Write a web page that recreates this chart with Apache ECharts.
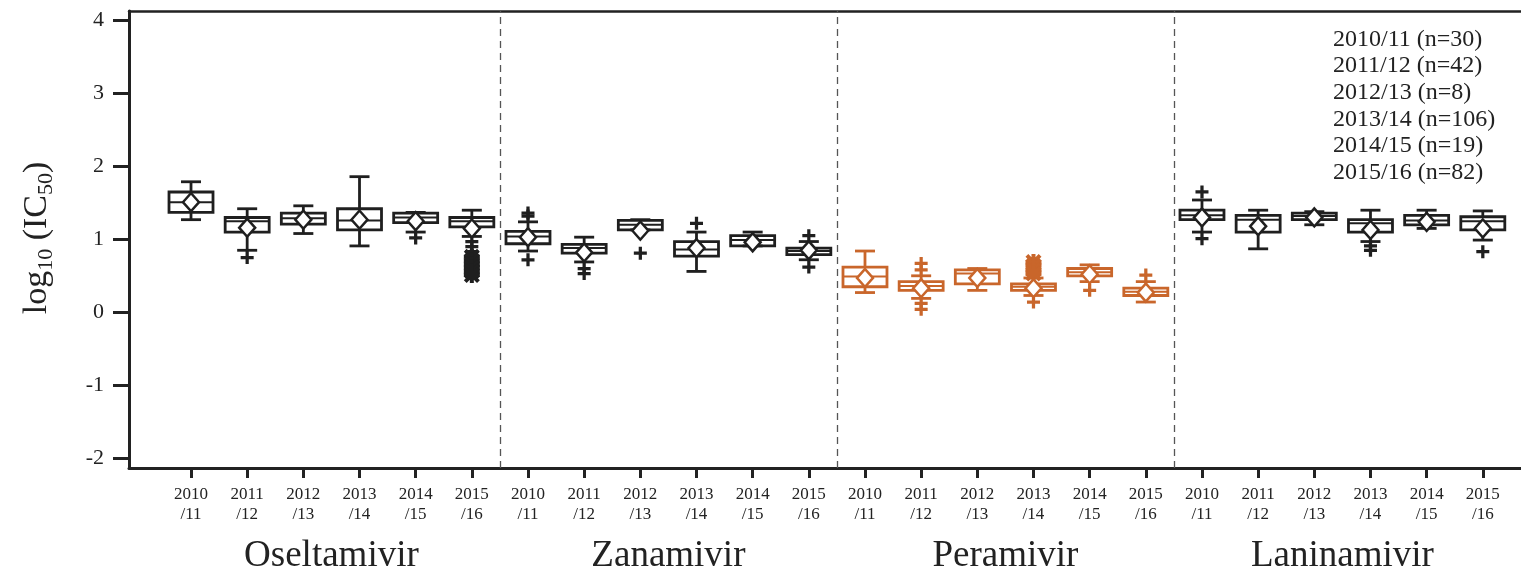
<!DOCTYPE html>
<html>
<head>
<meta charset="utf-8">
<script src="https://cdn.jsdelivr.net/npm/echarts@6/dist/echarts.min.js"></script>
<style>
html,body{margin:0;padding:0;background:#fff;}
#c{width:1521px;height:572px;}
</style>
</head>
<body>
<div id="c"></div>
<script>
// ---------- data ----------
const seasons = ['2010/11', '2011/12', '2012/13', '2013/14', '2014/15', '2015/16'];
const seasonCounts = [30, 42, 8, 106, 19, 82];
const drugs = ['Oseltamivir', 'Zanamivir', 'Peramivir', 'Laninamivir'];
const yTicks = [-2, -1, 0, 1, 2, 3, 4];

// box stats per season: [min, Q1, median, Q3, max]
const oseltamivirBoxes = [
  [1.27, 1.37, 1.51, 1.65, 1.79],
  [0.85, 1.10, 1.25, 1.30, 1.42],
  [1.08, 1.21, 1.29, 1.36, 1.46],
  [0.91, 1.13, 1.26, 1.42, 1.86],
  [1.10, 1.23, 1.30, 1.36, 1.37],
  [1.04, 1.17, 1.25, 1.30, 1.40]
];
const zanamivirBoxes = [
  [0.84, 0.94, 1.04, 1.11, 1.24],
  [0.69, 0.81, 0.88, 0.93, 1.03],
  [1.13, 1.13, 1.20, 1.26, 1.27],
  [0.56, 0.77, 0.86, 0.97, 1.10],
  [0.91, 0.91, 0.99, 1.05, 1.10],
  [0.72, 0.79, 0.84, 0.88, 0.97]
];
const peramivirBoxes = [
  [0.27, 0.35, 0.49, 0.62, 0.84],
  [0.19, 0.30, 0.36, 0.42, 0.50],
  [0.30, 0.39, 0.53, 0.58, 0.60],
  [0.23, 0.30, 0.35, 0.39, 0.47],
  [0.42, 0.50, 0.55, 0.60, 0.65],
  [0.14, 0.23, 0.28, 0.33, 0.42]
];
const laninamivirBoxes = [
  [1.10, 1.27, 1.33, 1.40, 1.54],
  [0.87, 1.10, 1.27, 1.33, 1.40],
  [1.20, 1.27, 1.32, 1.36, 1.38],
  [0.97, 1.10, 1.22, 1.27, 1.40],
  [1.15, 1.20, 1.26, 1.33, 1.40],
  [0.99, 1.13, 1.25, 1.31, 1.39]
];

// means per season
const oseltamivirMeans = [1.51, 1.16, 1.27, 1.27, 1.25, 1.15];
const zanamivirMeans = [1.03, 0.82, 1.12, 0.88, 0.96, 0.85];
const peramivirMeans = [0.47, 0.33, 0.47, 0.33, 0.52, 0.27];
const laninamivirMeans = [1.30, 1.18, 1.30, 1.13, 1.24, 1.15];

// outliers ('+') per season
const oseltamivirOutliers = [[], [0.75], [], [], [1.02], [0.97, 0.90, 0.83]];
const zanamivirOutliers = [[1.36, 1.32, 0.72], [0.60, 0.53], [0.81], [1.22], [], [1.05, 0.62]];
const peramivirOutliers = [[], [0.67, 0.58, 0.12, 0.04], [], [0.14], [0.30], [0.51]];
const laninamivirOutliers = [[1.65, 1.01], [], [], [0.91, 0.85], [], [0.83]];

// extreme outliers ('*') per season
const oseltamivirStars = [[], [], [], [], [], [0.76, 0.71, 0.66, 0.61, 0.56, 0.51]];
const zanamivirStars = [[], [], [], [], [], []];
const peramivirStars = [[], [], [], [0.69, 0.64, 0.58, 0.53], [], []];
const laninamivirStars = [[], [], [], [], [], []];

// ---------- build ----------
const drugBoxes = [oseltamivirBoxes, zanamivirBoxes, peramivirBoxes, laninamivirBoxes];
const drugMeans = [oseltamivirMeans, zanamivirMeans, peramivirMeans, laninamivirMeans];
const drugOutliers = [oseltamivirOutliers, zanamivirOutliers, peramivirOutliers, laninamivirOutliers];
const drugStars = [oseltamivirStars, zanamivirStars, peramivirStars, laninamivirStars];
const drugColors = ['#1f1f1f', '#1f1f1f', '#c9662b', '#1f1f1f'];

const nCat = drugs.length * seasons.length;
const catIdx = Array.from({length: nCat}, (_, i) => i);
const groupCenters = drugs.map((_, g) => g * seasons.length + (seasons.length - 1) / 2);
const separators = drugs.slice(1).map((_, g) => (g + 1) * seasons.length - 0.5);

const BOXW = 44, CAPW = 20, LW = 2.8;
const PLUS = 'path://M3,0h2v3h3v2h-3v3h-2v-3h-3v-2h3z';
const STAR = 'path://M3,0h2v3h3v2h-3v3h-2v-3h-3v-2h3z M0,1.4L1.4,0L8,6.6L6.6,8Z M6.6,0L8,1.4L1.4,8L0,6.6Z';
const FONT = "'Liberation Serif', 'DejaVu Serif', serif";

function makeRender(color) {
  return function (params, api) {
    const x = api.value(0);
    const p = k => api.coord([x, api.value(k)]);
    const lo = p(1), q1 = p(2), md = p(3), q3 = p(4), hi = p(5);
    const cx = lo[0], hw = BOXW / 2, cw = CAPW / 2;
    const ls = {stroke: color, lineWidth: LW, fill: null};
    return {
      type: 'group',
      children: [
        {type: 'line', shape: {x1: cx, y1: hi[1], x2: cx, y2: q3[1]}, style: ls},
        {type: 'line', shape: {x1: cx, y1: q1[1], x2: cx, y2: lo[1]}, style: ls},
        {type: 'line', shape: {x1: cx - cw, y1: hi[1], x2: cx + cw, y2: hi[1]}, style: ls},
        {type: 'line', shape: {x1: cx - cw, y1: lo[1], x2: cx + cw, y2: lo[1]}, style: ls},
        {type: 'rect', shape: {x: cx - hw, y: q3[1], width: 2 * hw, height: q1[1] - q3[1]},
          style: {stroke: color, lineWidth: LW, fill: 'rgba(255,255,255,0)'}},
        {type: 'line', shape: {x1: cx - hw, y1: md[1], x2: cx + hw, y2: md[1]}, style: {stroke: color, lineWidth: 2}}
      ]
    };
  };
}

const series = [];
drugs.forEach((name, g) => {
  const color = drugColors[g];
  const base = g * seasons.length;
  series.push({
    type: 'custom',
    name: name,
    renderItem: makeRender(color),
    encode: {x: 0, y: [1, 2, 3, 4, 5]},
    data: drugBoxes[g].map((b, s) => [base + s].concat(b)),
    z: 3
  });
  const pts = [], stars = [];
  drugOutliers[g].forEach((arr, s) => arr.forEach(v => pts.push([base + s, v])));
  drugStars[g].forEach((arr, s) => arr.forEach(v => stars.push([base + s, v])));
  series.push({
    type: 'scatter', data: pts, symbol: PLUS, symbolSize: 13,
    itemStyle: {color: color, opacity: 1}, z: 4
  });
  series.push({
    type: 'scatter', data: stars, symbol: STAR, symbolSize: 16,
    itemStyle: {color: color, opacity: 1}, z: 4
  });
  series.push({
    type: 'scatter',
    data: drugMeans[g].map((v, s) => [base + s, v]),
    symbol: 'diamond', symbolSize: [16, 18],
    itemStyle: {color: '#ffffff', borderColor: color, borderWidth: 2.5, opacity: 1},
    z: 5,
    markLine: g === 0 ? {
      silent: true, symbol: ['none', 'none'], label: {show: false},
      lineStyle: {color: '#555', width: 1.3, type: [7, 5]},
      data: separators.map(v => ({xAxis: v}))
    } : undefined
  });
});

const chart = echarts.init(document.getElementById('c'), null, {renderer: 'canvas'});
chart.setOption({
  animation: false,
  backgroundColor: '#ffffff',
  grid: {left: 129, right: 0, top: 11, bottom: 104, containLabel: false, outerBoundsMode: 'none'},
  xAxis: [
    {
      type: 'value', min: -1.104, max: 23.68, position: 'bottom',
      axisLine: {show: true, onZero: false, lineStyle: {color: '#222', width: 3}},
      axisTick: {show: true, customValues: catIdx, length: 10, lineStyle: {color: '#222', width: 3}},
      axisLabel: {
        show: true, customValues: catIdx, margin: 17,
        formatter: v => seasons[Math.round(v) % seasons.length].replace('/', '\n/'),
        fontFamily: FONT, fontSize: 17, lineHeight: 20, color: '#222'
      },
      splitLine: {show: false}
    },
    {
      type: 'value', min: -1.104, max: 23.68, position: 'top',
      axisLine: {show: true, onZero: false, lineStyle: {color: '#222', width: 2.5}},
      axisTick: {show: false}, axisLabel: {show: false}, splitLine: {show: false}
    },
    {
      type: 'value', min: -1.104, max: 23.68, position: 'bottom', offset: 68,
      axisLine: {show: false}, axisTick: {show: false}, splitLine: {show: false},
      axisLabel: {
        show: true, customValues: groupCenters, margin: 0,
        formatter: v => drugs[Math.round((v - 2.5) / 6)],
        fontFamily: FONT, fontSize: 37, lineHeight: 40, color: '#222'
      }
    }
  ],
  yAxis: {
    type: 'value', min: -2.137, max: 4.133,
    axisLine: {show: true, onZero: false, lineStyle: {color: '#222', width: 3}},
    axisTick: {show: true, customValues: yTicks, length: 16, lineStyle: {color: '#222', width: 3}},
    axisLabel: {show: true, customValues: yTicks, margin: 25, fontFamily: FONT, fontSize: 22, color: '#222'},
    splitLine: {show: false}
  },
  graphic: [
    {
      type: 'text', x: 37, y: 238, rotation: Math.PI / 2,
      style: {
        text: '{a|log}{s|10}{a| (IC}{s|50}{a|)}',
        align: 'center', verticalAlign: 'middle', fill: '#222',
        rich: {
          a: {fontFamily: FONT, fontSize: 34, lineHeight: 46, verticalAlign: 'middle', fill: '#222'},
          s: {fontFamily: FONT, fontSize: 22, lineHeight: 46, verticalAlign: 'bottom', padding: [0, 0, 3, 0], fill: '#222'}
        }
      }
    },
    {
      type: 'text', x: 1333, y: 26,
      style: {
        text: seasons.map((s, i) => s + ' (n=' + seasonCounts[i] + ')').join('\n'),
        fontFamily: FONT, fontSize: 24, lineHeight: 26.7, fill: '#222',
        align: 'left', verticalAlign: 'top'
      }
    }
  ],
  series: series
});
</script>
</body>
</html>
